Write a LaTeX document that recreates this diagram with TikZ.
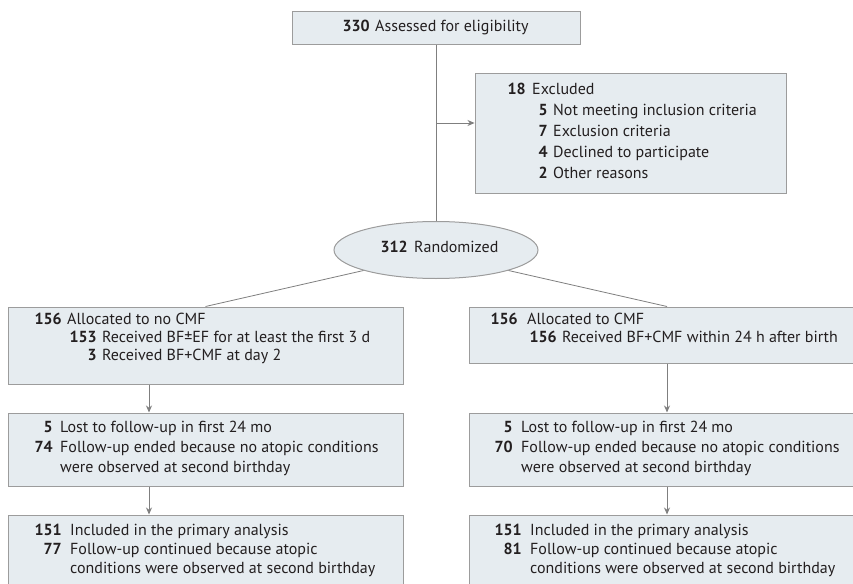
\documentclass[tikz,border=0pt]{standalone}
\usepackage{fontspec}
\setmainfont{PT Sans}
\usetikzlibrary{shapes.geometric,arrows.meta}
\definecolor{boxfill}{HTML}{E6ECF0}
\definecolor{boxdraw}{HTML}{9C9C9C}
\definecolor{linecol}{HTML}{7F7F7F}
\definecolor{txt}{HTML}{231F20}
\tikzset{
  flowbox/.style={draw=boxdraw, fill=boxfill, line width=1pt, inner sep=0pt},
  conn/.style={draw=linecol, line width=0.8pt},
  arr/.style={conn, -{Stealth[length=7pt,width=6pt]}},
  num/.style={anchor=mid east, inner sep=0pt, text=txt, font=\fontsize{16}{19}\selectfont\bfseries},
  lbl/.style={anchor=mid west, inner sep=0pt, text=txt, font=\fontsize{16}{19}\selectfont},
}
\begin{document}
\begin{tikzpicture}[x=1pt,y=-1pt]
\useasboundingbox (0,0) rectangle (853,583);
\begin{scope}
\clip (0,0) rectangle (853,583);
% boxes
\node[flowbox, minimum width=288pt, minimum height=33pt] (top) at (436,28.5) {};
\node[flowbox, minimum width=311pt, minimum height=119pt] (excl) at (630.5,133.5) {};
\node[flowbox, ellipse, minimum width=204pt, minimum height=57pt] (rand) at (436,250) {};
\node[flowbox, minimum width=395pt, minimum height=77pt] (l1) at (205.5,345.5) {};
\node[flowbox, minimum width=396pt, minimum height=56pt] (r1) at (667,335) {};
\node[flowbox, minimum width=395pt, minimum height=73pt] (l2) at (205.5,449.5) {};
\node[flowbox, minimum width=396pt, minimum height=73pt] (r2) at (667,449.5) {};
\node[flowbox, minimum width=395pt, minimum height=73pt] (l3) at (205.5,551.5) {};
\node[flowbox, minimum width=396pt, minimum height=73pt] (r3) at (667,551.5) {};
% connectors
\draw[conn] (top.south) -- (rand.north);
\coordinate (ex) at (436,123);
\draw[arr] (ex) -- (ex -| excl.west);
\draw[conn] (rand.south west) -- (l1.north);
\draw[conn] (rand.south east) -- (r1.north);
\draw[arr] (l1.south -| 149,0) -- (l2.north -| 149,0);
\draw[arr] (l2.south -| 149,0) -- (l3.north -| 149,0);
\draw[arr] (r1.south) -- (r2.north);
\draw[arr] (r2.south) -- (r3.north);
% texts
\node[num] (t0n) at (370,29) {330};
\node[lbl] (t0l) at (375,29) {Assessed for eligibility};
\node[num] (e0n) at (526,92) {18};
\node[lbl] (e0l) at (532,92) {Excluded};
\node[num] (e1n) at (548,113) {5};
\node[lbl] (e1l) at (553,113) {Not meeting inclusion criteria};
\node[num] (e2n) at (548,134) {7};
\node[lbl] (e2l) at (553,134) {Exclusion criteria};
\node[num] (e3n) at (548,155) {4};
\node[lbl] (e3l) at (553,155) {Declined to participate};
\node[num] (e4n) at (548,176) {2};
\node[lbl] (e4l) at (553,176) {Other reasons};
\node[num] (rn) at (408,250) {312};
\node[lbl] (rl) at (414,250) {Randomized};
% left column
\node[num] (a0n) at (62,322) {156};
\node[lbl] (a0l) at (67,322) {Allocated to no CMF};
\node[num] (a1n) at (97,340) {153};
\node[lbl] (a1l) at (102,340) {Received BF±EF for at least the first 3 d};
\node[num] (a2n) at (97,358) {3};
\node[lbl] (a2l) at (102,358) {Received BF+CMF at day 2};
\node[num] (b0n) at (53,430) {5};
\node[lbl] (b0l) at (60,430) {Lost to follow-up in first 24 mo};
\node[num] (b1n) at (53,450) {74};
\node[lbl] (b1l) at (60,450) {Follow-up ended because no atopic conditions};
\node[lbl] (b2l) at (60,470) {were observed at second birthday};
\node[num] (c0n) at (62,533) {151};
\node[lbl] (c0l) at (70,533) {Included in the primary analysis};
\node[num] (c1n) at (62,552) {77};
\node[lbl] (c1l) at (70,552) {Follow-up continued because atopic};
\node[lbl] (c2l) at (70,571) {conditions were observed at second birthday};
% right column
\node[num] (d0n) at (518,322) {156};
\node[lbl] (d0l) at (527,322) {Allocated to CMF};
\node[num] (d1n) at (557,340) {156};
\node[lbl] (d1l) at (562,340) {Received BF+CMF within 24 h after birth};
\node[num] (f0n) at (513,430) {5};
\node[lbl] (f0l) at (521,430) {Lost to follow-up in first 24 mo};
\node[num] (f1n) at (513,450) {70};
\node[lbl] (f1l) at (521,450) {Follow-up ended because no atopic conditions};
\node[lbl] (f2l) at (521,470) {were observed at second birthday};
\node[num] (g0n) at (522,533) {151};
\node[lbl] (g0l) at (530,533) {Included in the primary analysis};
\node[num] (g1n) at (522,552) {81};
\node[lbl] (g1l) at (530,552) {Follow-up continued because atopic};
\node[lbl] (g2l) at (530,571) {conditions were observed at second birthday};
\end{scope}
\end{tikzpicture}
\end{document}
